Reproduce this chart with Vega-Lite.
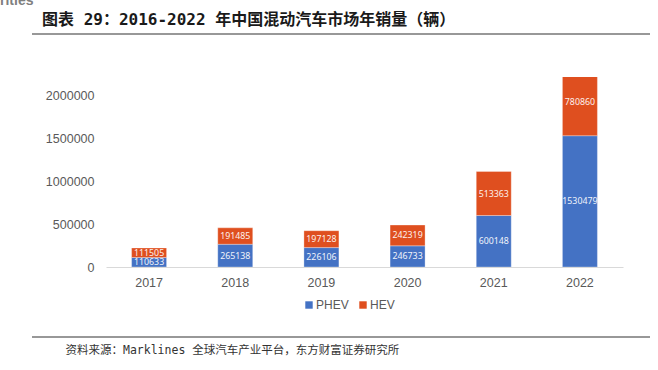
{
  "$schema": "https://vega.github.io/schema/vega-lite/v6.json",
  "autosize": {"type": "none"},
  "width": 517,
  "height": 190,
  "padding": {"left": 106, "top": 77, "right": 35, "bottom": 103},
  "background": "#ffffff",
  "config": {"view": {"stroke": null}, "font": "Noto Sans CJK SC"},
  "datasets": {
    "sales": [
      {"year": "2017", "type": "PHEV", "value": 110633},
      {"year": "2017", "type": "HEV", "value": 111505},
      {"year": "2018", "type": "PHEV", "value": 265138},
      {"year": "2018", "type": "HEV", "value": 191485},
      {"year": "2019", "type": "PHEV", "value": 226106},
      {"year": "2019", "type": "HEV", "value": 197128},
      {"year": "2020", "type": "PHEV", "value": 246733},
      {"year": "2020", "type": "HEV", "value": 242319},
      {"year": "2021", "type": "PHEV", "value": 600148},
      {"year": "2021", "type": "HEV", "value": 513363},
      {"year": "2022", "type": "PHEV", "value": 1530479},
      {"year": "2022", "type": "HEV", "value": 780860}
    ],
    "deco": [{"note": "rities", "title": "图表 29：2016-2022 年中国混动汽车市场年销量（辆）"}]
  },
  "layer": [
    {
      "data": {"name": "sales"},
      "transform": [
        {"stack": "value", "groupby": ["year"], "sort": [{"field": "type", "order": "descending"}], "as": ["v0", "v1"]}
      ],
      "mark": {"type": "bar", "clip": true, "stroke": "#ffffff", "strokeWidth": 0.6, "strokeOpacity": 0.5},
      "encoding": {
        "x": {
          "field": "year", "type": "nominal",
          "scale": {"paddingInner": 0.594, "paddingOuter": 0.297},
          "axis": {
            "title": "资料来源：Marklines 全球汽车产业平台，东方财富证券研究所",
            "titleFont": "DejaVu Sans Mono, Noto Sans CJK SC",
            "titleFontSize": 11.5,
            "titleFontWeight": "normal",
            "titleColor": "#333333",
            "titleAnchor": "start",
            "titleAlign": "left",
            "titleBaseline": "middle",
            "titleX": -41,
            "titleY": 83,
            "labelAngle": 0,
            "labelFontSize": 12.5,
            "labelColor": "#595959",
            "labelFont": "Liberation Sans",
            "labelPadding": 9,
            "ticks": false,
            "domainColor": "#d9d9d9",
            "domainWidth": 1.2
          }
        },
        "y": {
          "field": "v0", "type": "quantitative",
          "scale": {"domain": [0, 2215000], "nice": false},
          "axis": {
            "title": null,
            "values": [0, 500000, 1000000, 1500000, 2000000],
            "format": "d",
            "grid": false,
            "domain": false,
            "ticks": false,
            "labelFontSize": 12.5,
            "labelColor": "#595959",
            "labelFont": "Liberation Sans",
            "labelPadding": 12
          }
        },
        "y2": {"field": "v1"},
        "color": {
          "field": "type", "type": "nominal",
          "scale": {"domain": ["PHEV", "HEV"], "range": ["#4472C4", "#DF4F1F"]},
          "legend": {
            "title": null,
            "orient": "none",
            "direction": "horizontal",
            "legendX": 197,
            "legendY": 222,
            "symbolType": "square",
            "symbolSize": 55,
            "symbolStrokeWidth": 0,
            "labelFontSize": 12,
            "labelColor": "#595959",
            "labelFont": "Liberation Sans",
            "labelOffset": 1,
            "columnPadding": 8
          }
        }
      }
    },
    {
      "data": {"name": "sales"},
      "transform": [
        {"stack": "value", "groupby": ["year"], "sort": [{"field": "type", "order": "descending"}], "as": ["v0", "v1"]},
        {"calculate": "(datum.v0 + datum.v1) / 2", "as": "mid"}
      ],
      "mark": {"type": "text", "color": "#ffffff", "fontSize": 8.8, "font": "Noto Sans", "baseline": "middle", "opacity": 0.92},
      "encoding": {
        "x": {"field": "year", "type": "nominal"},
        "y": {"field": "mid", "type": "quantitative"},
        "text": {"field": "value", "type": "quantitative", "format": "d"}
      }
    },
    {
      "data": {"name": "deco"},
      "mark": {"type": "rule", "color": "#333333", "strokeWidth": 1.2},
      "encoding": {"x": {"value": -74}, "x2": {"value": 544}, "y": {"value": -43}}
    },
    {
      "data": {"name": "deco"},
      "mark": {"type": "rule", "color": "#333333", "strokeWidth": 1.2},
      "encoding": {"x": {"value": -74}, "x2": {"value": 544}, "y": {"value": 260}}
    },
    {
      "data": {"name": "deco"},
      "mark": {"type": "text", "color": "#7f7f7f", "fontSize": 14, "fontWeight": "bold", "font": "Liberation Sans", "align": "left", "baseline": "alphabetic"},
      "encoding": {"x": {"value": -106}, "y": {"value": -72}, "text": {"field": "note"}}
    },
    {
      "data": {"name": "deco"},
      "mark": {"type": "text", "color": "#1a1a1a", "fontSize": 16, "fontWeight": "bold", "font": "DejaVu Sans Mono, Noto Sans CJK SC", "align": "left", "baseline": "middle"},
      "encoding": {"x": {"value": -64}, "y": {"value": -57}, "text": {"field": "title"}}
    }
  ]
}
